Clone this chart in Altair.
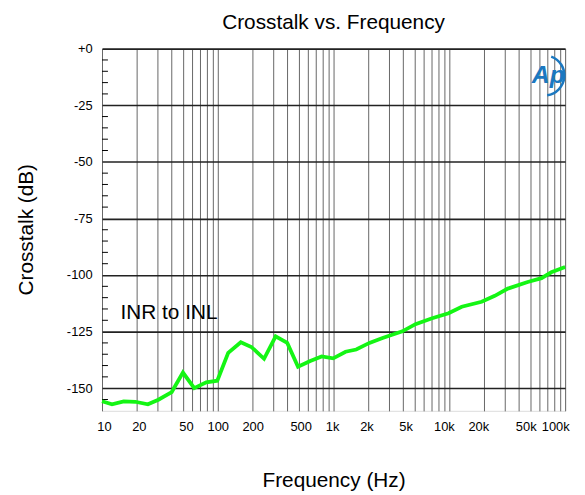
import altair as alt
import pandas as pd

# ---- data ----
freq = [10, 12.2, 15.4, 19.4, 24.9, 30.7, 40, 50, 62.6, 79.5, 99, 123, 158, 195, 251,
        316, 398, 493, 629, 789, 993, 1270, 1570, 2040, 2650, 3930, 5100, 7100, 9850,
        12800, 19000, 24700, 32000, 47500, 62500, 76000, 100000]
crosstalk = [-155.8, -157.1, -155.8, -156.0, -157.1, -155.1, -151.7, -143.1, -150.0,
             -147.4, -146.7, -134.4, -129.7, -131.8, -137.0, -127.1, -130.0, -140.5,
             -138.0, -136.0, -136.8, -133.9, -132.9, -130.0, -127.8, -124.9, -121.7,
             -119.1, -116.9, -114.0, -111.8, -109.2, -106.0, -103.1, -101.4, -98.8, -96.5]

x_grid = [10, 20, 30, 40, 50, 60, 70, 80, 90,
          100, 200, 300, 400, 500, 600, 700, 800, 900,
          1000, 2000, 3000, 4000, 5000, 6000, 7000, 8000, 9000,
          10000, 20000, 30000, 40000, 50000, 60000, 70000, 80000, 90000, 100000]
x_label_vals = [10, 20, 50, 100, 200, 500, 1000, 2000, 5000, 10000, 20000, 50000, 100000]
x_label_txt = ["10", "20", "50", "100", "200", "500", "1k", "2k", "5k", "10k", "20k", "50k", "100k"]
y_major = [-150, -125, -100, -75, -50, -25, 0]
y_minor = [v for v in range(-155, 0, 5) if v % 25 != 0]

title_text = "Crosstalk vs. Frequency"
series_label = "INR to INL"

# style: small horizontal nudges of x tick labels, as in the reference (pixels)
label_nudge = {10: 2, 20: 2, 50: 3, 500: 2, 1000: -1.5, 2000: -2, 5000: -9,
               10000: -5.5, 20000: -6, 50000: -4.6, 100000: -10}

FONT = "Liberation Sans"

df = pd.DataFrame({"freq": freq, "xt": crosstalk})
minor_df = pd.DataFrame({"v": y_minor})

xlab_expr = "".join(f"datum.value == {v} ? '{t}' : " for v, t in zip(x_label_vals, x_label_txt)) + "''"
label_offset = {"condition": [{"test": f"datum.value == {v}", "value": d} for v, d in label_nudge.items()],
                "value": 0}

xscale = alt.Scale(type="log", domain=[10, 100000], nice=False)
yscale = alt.Scale(domain=[-160, 0], nice=False, zero=False)

y_axis = alt.Axis(values=y_major, labelExpr="datum.value == 0 ? '+0' : '' + datum.value",
                  grid=True, gridColor="#222", gridWidth=1.6, ticks=False,
                  domain=False, labelPadding=10, labelFontSize=13, labelFont=FONT,
                  labelColor="black", labelFlush=False, labelOverlap=False,
                  title="Crosstalk (dB)", titleFontSize=21, titleFont=FONT,
                  titleFontWeight="normal", titleColor="black", titleAngle=270,
                  titleAlign="center", titleBaseline="alphabetic",
                  titleX=-70, titleY=182.5)

x_axis = alt.Axis(values=x_grid, labelExpr=xlab_expr, grid=True, gridColor="#666",
                  gridWidth=1, ticks=False, domain=False, labelPadding=10,
                  labelFontSize=13, labelFont=FONT, labelColor="black",
                  labelOverlap=False, labelFlush=False, labelBound=False,
                  labelOffset=label_offset,
                  title="Frequency (Hz)", titleFontSize=21, titleFont=FONT,
                  titleFontWeight="normal", titleColor="black",
                  titleBaseline="alphabetic", titleY=76.6)

line = alt.Chart(df).mark_line(color="#14f514", strokeWidth=3.8).encode(
    x=alt.X("freq:Q", scale=xscale, axis=x_axis),
    y=alt.Y("xt:Q", scale=yscale, axis=y_axis),
)

minor = alt.Chart(minor_df).mark_rule(color="black", strokeWidth=1).encode(
    y=alt.Y("v:Q", scale=yscale, axis=y_axis),
    x=alt.value(0), x2=alt.value(6),
)

label = alt.Chart(pd.DataFrame({"t": [series_label]})).mark_text(
    font=FONT, fontSize=21, align="left", baseline="alphabetic", color="black"
).encode(text="t:N", x=alt.value(18.7), y=alt.value(272.8))

title = alt.Chart(pd.DataFrame({"t": [title_text]})).mark_text(
    font=FONT, fontSize=21, align="center", baseline="alphabetic", color="black"
).encode(text="t:N", x=alt.value(234), y=alt.value(-19.8))

logo_txt = alt.Chart(pd.DataFrame({"t": ["Ap"]})).mark_text(
    font=FONT, fontSize=25, fontStyle="italic", fontWeight="bold", align="center",
    baseline="middle", color="#1b78c0"
).encode(text="t:N", x=alt.value(451), y=alt.value(27))

logo_arc = alt.Chart(pd.DataFrame({"a": [1]})).mark_arc(
    theta=0.35, theta2=3.0, innerRadius=19, outerRadius=21.5, color="#1b78c0"
).encode(x=alt.value(447), y=alt.value(27))

chart = alt.layer(minor, line, label, title, logo_txt, logo_arc).properties(
    width=468, height=366,
    padding={"left": 95, "top": 38.5, "right": 12, "bottom": 84},
    autosize=alt.AutoSizeParams(type="none"),
).configure_view(stroke="black", strokeWidth=2).configure(background="white")

chart.save("out.html", embed_options={"renderer": "svg", "actions": False})
